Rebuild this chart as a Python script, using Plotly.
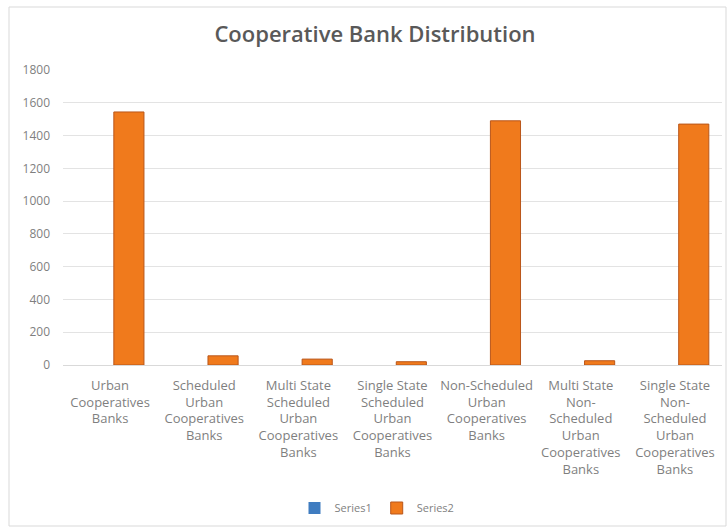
import plotly.graph_objects as go

categories = [
    "Urban<br>Cooperatives<br>Banks",
    "Scheduled<br>Urban<br>Cooperatives<br>Banks",
    "Multi State<br>Scheduled<br>Urban<br>Cooperatives<br>Banks",
    "Single State<br>Scheduled<br>Urban<br>Cooperatives<br>Banks",
    "Non-Scheduled<br>Urban<br>Cooperatives<br>Banks",
    "Multi State<br>Non-<br>Scheduled<br>Urban<br>Cooperatives<br>Banks",
    "Single State<br>Non-<br>Scheduled<br>Urban<br>Cooperatives<br>Banks",
]
series1 = [0, 0, 0, 0, 0, 0, 0]
series2 = [1544, 56, 36, 20, 1490, 26, 1470]
y_ticks = [0, 200, 400, 600, 800, 1000, 1200, 1400, 1600, 1800]

W, H = 727, 529
L, R, T, B = 63, 5, 70, 164
pw = W - L - R
ph = H - T - B

def px(x):
    return (x - L) / pw

def py(y):
    return (H - B - y) / ph

fig = go.Figure()
fig.add_trace(go.Bar(
    x=categories, y=series1, name="Series1",
    marker=dict(color="#3F7CC0", line=dict(width=0)),
    offset=-0.36, width=0.32,
))
fig.add_trace(go.Bar(
    x=categories, y=series2, name="Series2",
    marker=dict(color="#F07A1C", line=dict(color="#B9561A", width=1)),
    offset=0.04, width=0.32,
))

fig.add_shape(type="rect", xref="paper", yref="paper",
              x0=px(9), x1=px(726), y0=py(526), y1=py(7),
              line=dict(color="#D9D9D9", width=1), fillcolor="rgba(0,0,0,0)", layer="below")

fig.update_layout(
    width=W, height=H,
    margin=dict(l=L, r=R, t=T, b=B),
    paper_bgcolor="white", plot_bgcolor="white",
    barmode="overlay",
    title=dict(text="Cooperative Bank Distribution", xref="container", x=375 / W, xanchor="center",
               yref="container", y=1 - 34 / H, yanchor="middle",
               font=dict(family="Open Sans", size=22, color="#595959", weight=600)),
    font=dict(family="Open Sans", color="#7F7F7F", size=12),
    showlegend=True,
    legend=dict(orientation="h", x=px(377), xanchor="center", y=py(508), yanchor="middle",
                font=dict(size=11, color="#7F7F7F"), itemwidth=30),
    xaxis=dict(showgrid=False, showline=True, linecolor="#D9D9D9", linewidth=1,
               tickfont=dict(size=13, color="#7F7F7F"), ticklabelstandoff=8,
               tickangle=0, fixedrange=True),
    yaxis=dict(range=[0, 1800], tickvals=y_ticks, showgrid=True, gridcolor="#E3E3E3",
               gridwidth=1, zeroline=False, showline=False,
               tickfont=dict(size=12, color="#7F7F7F"), ticklabelstandoff=12),
)

fig.write_html("out.html")
